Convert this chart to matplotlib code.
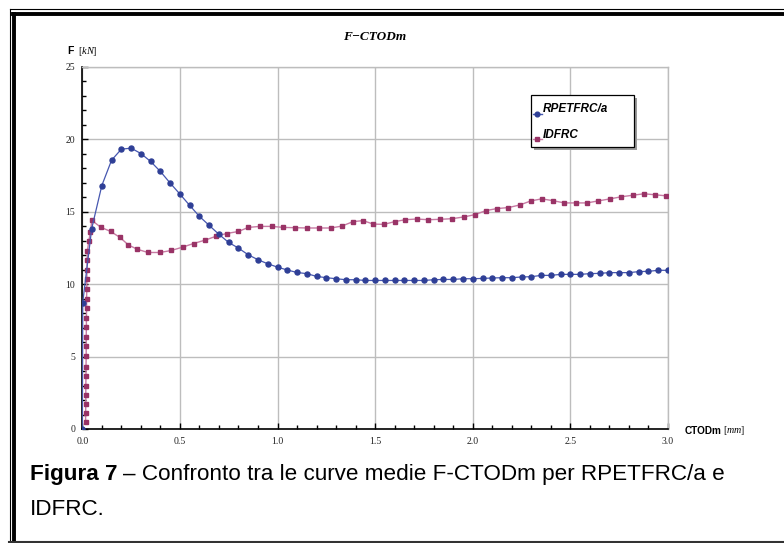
import matplotlib
matplotlib.use("Agg")
import matplotlib.pyplot as plt
from matplotlib.lines import Line2D
from matplotlib.patches import Rectangle
from matplotlib.ticker import MultipleLocator, FormatStrFormatter

plt.rcParams["mathtext.fontset"] = "custom"
plt.rcParams["mathtext.it"] = "Liberation Serif:italic"
plt.rcParams["mathtext.rm"] = "Liberation Serif"

# RPETFRC/a - mean curve (blue)
blue_x = [0.0, 0.002, 0.048, 0.10, 0.15, 0.20, 0.25, 0.30, 0.35, 0.40, 0.45,
          0.50, 0.55, 0.60, 0.65, 0.70, 0.75, 0.80, 0.85, 0.90, 0.95, 1.00,
          1.05, 1.10, 1.15, 1.20, 1.25, 1.30, 1.35, 1.40, 1.45, 1.50, 1.55,
          1.60, 1.65, 1.70, 1.75, 1.80, 1.85, 1.90, 1.95, 2.00, 2.05, 2.10,
          2.15, 2.20, 2.25, 2.30, 2.35, 2.40, 2.45, 2.50, 2.55, 2.60, 2.65,
          2.70, 2.75, 2.80, 2.85, 2.90, 2.95, 3.00]
blue_y = [0.0, 8.7, 13.82, 16.80, 18.55, 19.31, 19.38, 19.01, 18.46, 17.77, 16.97,
          16.21, 15.43, 14.67, 14.05, 13.43, 12.87, 12.48, 12.02, 11.68, 11.40, 11.17,
          10.97, 10.80, 10.72, 10.53, 10.44, 10.37, 10.30, 10.30, 10.25, 10.25, 10.25,
          10.25, 10.25, 10.25, 10.25, 10.30, 10.32, 10.32, 10.37, 10.37, 10.39, 10.42,
          10.44, 10.44, 10.49, 10.51, 10.60, 10.60, 10.67, 10.67, 10.67, 10.72, 10.74,
          10.79, 10.79, 10.79, 10.86, 10.88, 10.95, 10.95]

# IDFRC - mean curve (purple)
red_x = [0.017, 0.017, 0.018, 0.018, 0.018, 0.019, 0.019, 0.020, 0.020, 0.020,
         0.021, 0.021, 0.022, 0.022, 0.023, 0.023, 0.024, 0.025, 0.026, 0.033,
         0.041, 0.049, 0.094, 0.145, 0.193, 0.235, 0.280, 0.336, 0.398, 0.456,
         0.514, 0.570, 0.628, 0.683, 0.739, 0.800, 0.850, 0.910, 0.971, 1.030,
         1.090, 1.153, 1.213, 1.273, 1.329, 1.387, 1.438, 1.490, 1.546, 1.600,
         1.654, 1.712, 1.773, 1.833, 1.893, 1.953, 2.011, 2.067, 2.124, 2.183,
         2.241, 2.298, 2.353, 2.409, 2.469, 2.527, 2.585, 2.643, 2.703, 2.759,
         2.819, 2.877, 2.935, 2.990]
red_y = [0.46, 1.10, 1.73, 2.35, 2.95, 3.69, 4.29, 5.07, 5.76, 6.36,
         7.03, 7.67, 8.32, 8.99, 9.63, 10.32, 11.00, 11.63, 12.27, 12.94,
         13.56, 14.39, 13.93, 13.63, 13.22, 12.71, 12.41, 12.18, 12.18, 12.32,
         12.55, 12.80, 13.03, 13.29, 13.49, 13.63, 13.91, 13.98, 13.98, 13.91,
         13.89, 13.87, 13.87, 13.87, 14.00, 14.31, 14.38, 14.14, 14.12, 14.31,
         14.44, 14.49, 14.44, 14.47, 14.51, 14.63, 14.79, 15.07, 15.21, 15.28,
         15.46, 15.74, 15.88, 15.76, 15.60, 15.60, 15.60, 15.74, 15.88, 16.02,
         16.13, 16.23, 16.16, 16.09]

W, H = 784, 543
BLUE = "#2f3f96"
BLUE_LINE = "#4657b0"
RED = "#993366"
RED_LINE = "#c77aa3"
GRID = "#bdbdbd"


def fx(px):
    return px / W


def fy(py):
    return 1 - py / H


fig = plt.figure(figsize=(W / 100, H / 100), dpi=100)
ax = fig.add_axes([fx(82.3), fy(429), fx(668) - fx(82.3), fy(66.7) - fy(429)])

ax.plot(red_x, red_y, color=RED_LINE, lw=1.0, marker="s", ms=3.4,
        mfc=RED, mec=RED, zorder=3)
ax.plot(blue_x, blue_y, color=BLUE_LINE, lw=0.9, marker="o", ms=3.6,
        mfc=BLUE, mec=BLUE, zorder=4)

ax.set_xlim(0, 3.0)
ax.set_ylim(0, 25)
ax.xaxis.set_major_locator(MultipleLocator(0.5))
ax.xaxis.set_minor_locator(MultipleLocator(0.1))
ax.yaxis.set_major_locator(MultipleLocator(5))
ax.yaxis.set_minor_locator(MultipleLocator(1))
ax.xaxis.set_major_formatter(FormatStrFormatter("%.1f"))
ax.grid(True, which="major", color=GRID, lw=1.0)
ax.set_axisbelow(True)

for s in ["left", "bottom"]:
    ax.spines[s].set_color("black")
    ax.spines[s].set_linewidth(1.2)
for s in ["top", "right"]:
    ax.spines[s].set_color(GRID)
    ax.spines[s].set_linewidth(1.0)

ax.tick_params(which="both", direction="in", top=False, right=False,
               width=1.0, color="black", labelsize=7, labelcolor="#222222")
ax.tick_params(which="major", length=4.5)
ax.tick_params(which="minor", length=3)
ax.tick_params(axis="x", pad=6)
ax.tick_params(axis="y", pad=5)
for lab in ax.get_xticklabels() + ax.get_yticklabels():
    lab.set_family("Liberation Serif")

# title and axis labels
fig.text(fx(375), fy(37), "F\u2212CTODm", family="Liberation Serif",
         weight="bold", style="italic", fontsize=9.5, ha="center", va="center")
fig.text(fx(67.5), fy(51), "F", family="Liberation Sans", weight="bold",
         fontsize=7.5, ha="left", va="center")
fig.text(fx(77.5), fy(51), r"[$\it{kN}$]", family="Liberation Serif",
         fontsize=7.5, ha="left", va="center")
fig.text(fx(685), fy(430.5), "CTODm", family="Liberation Sans", weight="bold",
         fontsize=7.2, ha="left", va="center")
fig.text(fx(723), fy(430.5), r"[$\it{mm}$]", family="Liberation Serif",
         fontsize=7.2, ha="left", va="center")

# legend box with shadow
fig.add_artist(Rectangle((fx(534), fy(150)), fx(637) - fx(534), fy(98) - fy(150),
                         transform=fig.transFigure, facecolor="#9a9a9a",
                         edgecolor="none", zorder=5))
fig.add_artist(Rectangle((fx(531), fy(147)), fx(634) - fx(531), fy(95) - fy(147),
                         transform=fig.transFigure, facecolor="white",
                         edgecolor="black", lw=0.9, zorder=6))
legend_items = [("RPETFRC/a", BLUE, BLUE_LINE, "o", 114, 109.5),
                ("IDFRC", RED, RED_LINE, "s", 139, 135)]
for name, mc, lc, mk, my, ty in legend_items:
    fig.add_artist(Line2D([fx(533), fx(541.5)], [fy(my), fy(my)], color=lc, lw=1.0,
                          transform=fig.transFigure, zorder=7))
    fig.add_artist(Line2D([fx(537)], [fy(my)], marker=mk, ms=3.4, mfc=mc, mec=mc,
                          transform=fig.transFigure, zorder=8))
    fig.text(fx(543), fy(ty), name, family="Liberation Sans", weight="bold",
             style="italic", fontsize=8.5, ha="left", va="center", zorder=8)

# page frame
fig.add_artist(Line2D([fx(9.5), fx(9.5)], [fy(8.5), fy(541)], color="black", lw=0.8,
                      transform=fig.transFigure))
fig.add_artist(Line2D([fx(9.5), fx(784)], [fy(8.5), fy(8.5)], color="black", lw=0.8,
                      transform=fig.transFigure))
fig.add_artist(Line2D([fx(14), fx(14)], [fy(14.3), fy(541)], color="black", lw=2.8,
                      transform=fig.transFigure))
fig.add_artist(Line2D([fx(12.5), fx(784)], [fy(14.3), fy(14.3)], color="black", lw=2.8,
                      transform=fig.transFigure))
fig.add_artist(Line2D([fx(9), fx(784)], [fy(541.5), fy(541.5)], color="#333333", lw=1.5,
                      transform=fig.transFigure))

# caption
cap_y = fy(480)
t1 = fig.text(fx(30), cap_y, "Figura 7", family="Liberation Sans", weight="bold",
              fontsize=16.2, ha="left", va="baseline")
fig.canvas.draw()
bb = t1.get_window_extent(fig.canvas.get_renderer())
fig.text((bb.x1 + 6) / W, cap_y,
         "\u2013 Confronto tra le curve medie F-CTODm per RPETFRC/a e",
         family="Liberation Sans", fontsize=16.2, ha="left", va="baseline")
fig.text(fx(30), fy(515), "IDFRC.", family="Liberation Sans", fontsize=16.2,
         ha="left", va="baseline")

fig.savefig("out.png", dpi=100)
